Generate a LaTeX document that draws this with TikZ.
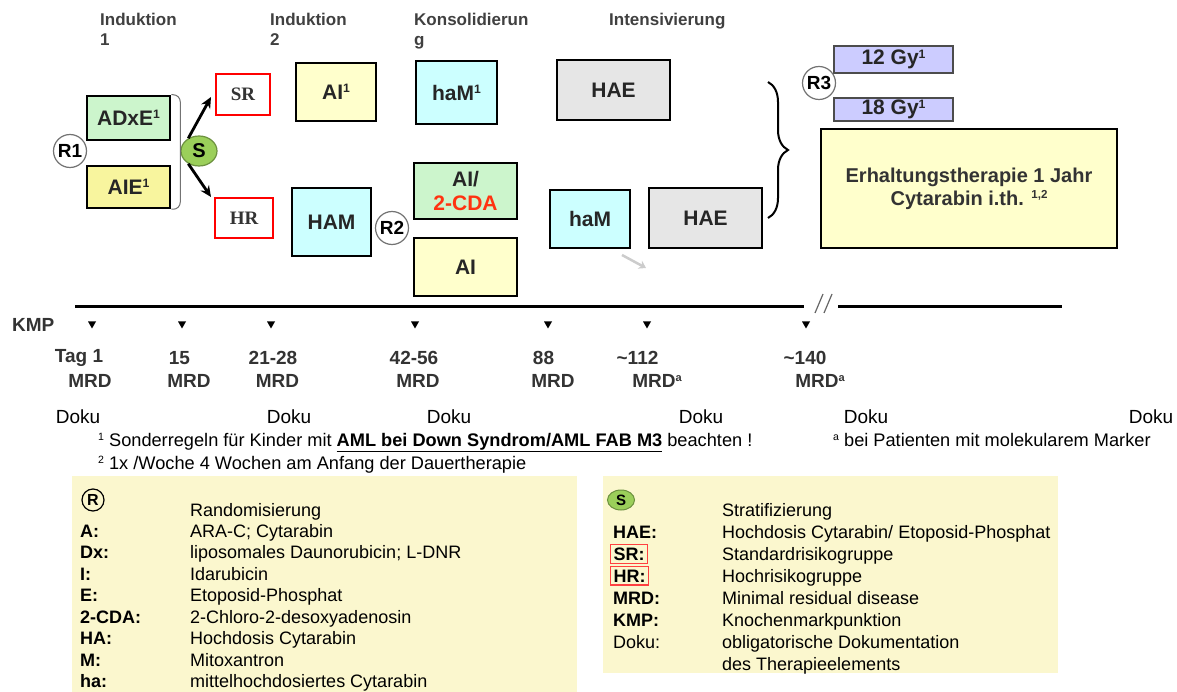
\documentclass[tikz,border=0pt]{standalone}
\usepackage{fontspec}
\setmainfont{Liberation Sans}
\newfontfamily\serifbox{Liberation Serif}
\usepackage{xcolor}
\usetikzlibrary{arrows.meta,decorations.pathreplacing,shapes.geometric}

\definecolor{boxgreen}{HTML}{CCF5CC}
\definecolor{boxyellow}{HTML}{F8F59E}
\definecolor{paleyellow}{HTML}{FFFFCC}
\definecolor{boxcyan}{HTML}{CCFFFF}
\definecolor{boxgray}{HTML}{E6E6E6}
\definecolor{boxlilac}{HTML}{CCCCFF}
\definecolor{sgreen}{HTML}{9BCF5A}
\definecolor{legbg}{HTML}{FBF7CE}
\definecolor{cdared}{HTML}{FF3311}

\newcommand{\sz}[2]{\fontsize{#1}{#2}\selectfont}
\newcommand{\hoch}[1]{\raisebox{0.32em}{\scalebox{0.58}{#1}}}

\begin{document}
\begin{tikzpicture}[x=1pt, y=-1pt,
    therapy/.style={draw=black, line width=2.5pt, inner sep=0pt, align=center,
        font=\bfseries\sz{21}{24}, text=black!85},
    risk/.style={draw=red, line width=1.8pt, fill=white, inner sep=0pt,
        font=\serifbox\bfseries\sz{19}{22}, text=black!80},
    rando/.style={circle, draw=black!55, line width=1.2pt, fill=white,
        minimum size=33pt, inner sep=0pt, font=\bfseries\sz{19}{22}},
    gy/.style={draw=black!70, line width=1.5pt, fill=boxlilac, inner sep=0pt,
        minimum width=119pt, font=\bfseries\sz{21}{22}, text=black!85},
    phase/.style={anchor=north west, align=left, inner sep=0pt,
        font=\bfseries\sz{17}{20}, text=black!75},
    tl/.style={font=\bfseries\sz{19}{22}, text=black!80},
    doku/.style={font=\sz{19}{22}},
    foot/.style={anchor=base west, inner sep=0pt, font=\sz{18.2}{21}},
    legkey/.style={anchor=base west, inner sep=0pt, font=\bfseries\sz{18}{21}},
    legval/.style={anchor=base west, inner sep=0pt, font=\sz{18}{21}}
]
    \useasboundingbox (0,0) rectangle (1177,692);

    % Phases
    \node[phase] (ind1) at (100,13) {Induktion\\1};
    \node[phase] (ind2) at (270,13) {Induktion\\2};
    \node[phase] (kons) at (414,13) {Konsolidierun\\g};
    \node[phase] (intens) at (609,13) {Intensivierung};

    % Induktion 1
    \node[therapy, fill=boxgreen, minimum width=83pt, minimum height=44pt] (adxe) at (128.5,118) {ADxE\hoch{1}};
    \node[therapy, fill=boxyellow, minimum width=83pt, minimum height=42pt] (aie) at (128.5,187) {AIE\hoch{1}};
    \node[rando] (r1) at (70,151) {R1};
    \node[ellipse, draw=sgreen!70!black, fill=sgreen, line width=1.2pt, minimum width=36pt, minimum height=30pt,
        inner sep=0pt, font=\bfseries\sz{20}{22}] (strat) at (199,151) {S};
    \draw[black!55, line width=1pt, rounded corners=7pt] (adxe.north east) -- ++(9,0) -- ++(0,47) -- (strat.west);
    \draw[black!55, line width=1pt, rounded corners=7pt] (aie.south east) -- ++(9,0) -- ++(0,-47) -- (strat.west);

    % Stratifizierung
    \node[risk, minimum width=54pt, minimum height=41pt] (sr) at (243,94.5) {SR};
    \node[risk, minimum width=58pt, minimum height=40pt] (hr) at (244,218) {HR};
    \coordinate (srtip) at (211,97);
    \coordinate (hrtip) at (211,197);
    \draw[-{Stealth[length=11pt,width=10pt]}, line width=2.8pt] (strat.130) -- (srtip);
    \draw[-{Stealth[length=11pt,width=10pt]}, line width=2.8pt] (strat.230) -- (hrtip);

    % Induktion 2
    \node[therapy, fill=paleyellow, minimum width=80pt, minimum height=58pt] (ai1) at (336,92) {AI\hoch{1}};
    \node[therapy, fill=boxcyan, minimum width=79pt, minimum height=68pt] (ham) at (331.5,222) {HAM};
    \node[rando] (r2) at (392,228) {R2};

    % Konsolidierung
    \node[therapy, fill=boxcyan, minimum width=81pt, minimum height=63pt] (ham1) at (456.5,92.5) {haM\hoch{1}};
    \node[therapy, fill=boxgreen, minimum width=103pt, minimum height=56pt] (aicda) at (465.5,191) {AI/\\\textcolor{cdared}{2-CDA}};
    \node[therapy, fill=paleyellow, minimum width=103pt, minimum height=58pt] (ai) at (465.5,267) {AI};

    % Intensivierung
    \node[therapy, fill=boxgray, minimum width=113pt, minimum height=60pt] (haea) at (613.5,90) {HAE};
    \node[therapy, fill=boxcyan, minimum width=80pt, minimum height=58pt] (hamb) at (590,219) {haM};
    \node[therapy, fill=boxgray, minimum width=113pt, minimum height=60pt] (haeb) at (705.5,218) {HAE};
    \coordinate (graystart) at (622,255);
    \coordinate (grayend) at (646,268);
    \draw[black!20, line width=2.5pt, -{Stealth[length=7pt,width=9pt]}] (graystart) -- (grayend);

    % Erhaltung
    \draw[decorate, decoration={brace, amplitude=20pt}, line width=2pt] (768,82) -- (768,218);
    \node[gy, minimum height=27pt] (gy12) at (893.5,59.5) {12 Gy\hoch{1}};
    \node[gy, minimum height=23pt] (gy18) at (893.5,109.5) {18 Gy\hoch{1}};
    \node[rando] (r3) at (819,83) {R3};
    \node[therapy, fill=paleyellow, minimum width=296pt, minimum height=119pt,
        font=\bfseries\sz{20}{23}, text=black!80] (erh) at (969,188.5) {Erhaltungstherapie 1 Jahr\\Cytarabin i.th. \hoch{1,2}};

    % Zeitachse
    \draw[line width=3pt] (75,307) -- (804,307);
    \draw[line width=3pt] (838,307) -- (1062,307);
    \draw[black!60, line width=1.2pt] (815,313) -- (823,294);
    \draw[black!60, line width=1.2pt] (824,313) -- (832,294);
    \node[tl, anchor=west, inner sep=0pt] (kmp) at (12,325) {KMP};
    \foreach \x in {92,182,271,415,548,647,806} {
        \fill (\x-4,321.5) -- (\x+4,321.5) -- (\x,328.5) -- cycle;
    }
    \foreach \n/\d/\dx/\mx/\m in {a/Tag 1/79/90/MRD, b/15/179.5/189/MRD, c/21-28/273/277.5/MRD,
        d/42-56/414/418/MRD, e/88/543.5/553/MRD, f/\textasciitilde112/637.5/657/MRD\hoch{a},
        g/\textasciitilde140/805/820/MRD\hoch{a}} {
        \node[tl] (day\n) at (\dx,358) {\d};
        \node[tl] (mrd\n) at (\mx,381) {\m};
    }
    \foreach \x [count=\i] in {78,289,449,701,866,1151} {
        \node[doku] (doku\i) at (\x,417) {Doku};
    }

    % Fussnoten
    \node[foot] (fn1) at (98,446) {\hoch{1} Sonderregeln für Kinder mit \textbf{\underline{AML bei Down Syndrom/AML FAB M3}} beachten !};
    \node[foot] (fna) at (833,446) {\hoch{a} bei Patienten mit molekularem Marker};
    \node[foot] (fn2) at (98,469) {\hoch{2} 1x /Woche 4 Wochen am Anfang der Dauertherapie};

    % Legende links
    \fill[legbg] (72,476) rectangle (577,692);
    \node[circle, draw, line width=1.2pt, inner sep=0pt, minimum size=22pt, font=\bfseries\sz{16}{18}] (legr) at (93,500) {R};
    \node[legval] (valr) at (190,516) {Randomisierung};
    \foreach \k/\v [count=\i] in {A:/ARA-C; Cytarabin, Dx:/liposomales Daunorubicin; L-DNR, I:/Idarubicin,
        E:/Etoposid-Phosphat, 2-CDA:/2-Chloro-2-desoxyadenosin, HA:/Hochdosis Cytarabin,
        M:/Mitoxantron, ha:/mittelhochdosiertes Cytarabin} {
        \node[legkey] (lk\i) at (80,515.5+21.5*\i) {\k};
        \node[legval] (lv\i) at (190,515.5+21.5*\i) {\v};
    }

    % Legende rechts
    \fill[legbg] (603,476) rectangle (1058,673);
    \node[ellipse, draw=sgreen!70!black, fill=sgreen, line width=1pt, inner sep=0pt, minimum width=27pt,
        minimum height=20pt, font=\bfseries\sz{15}{17}] (legs) at (621,500) {S};
    \node[legval] (vals) at (722,516) {Stratifizierung};
    \node[legkey] (khae) at (613,538) {HAE:};
    \node[legval] (vhae) at (722,538) {Hochdosis Cytarabin/ Etoposid-Phosphat};
    \node[legkey, draw=red!75, line width=1.2pt, inner sep=3pt] (ksr) at (610,560) {SR:};
    \node[legval] (vsr) at (722,560) {Standardrisikogruppe};
    \node[legkey, draw=red!75, line width=1.2pt, inner sep=3pt] (khr) at (610,582) {HR:};
    \node[legval] (vhr) at (722,582) {Hochrisikogruppe};
    \node[legkey] (kmrd) at (613,604) {MRD:};
    \node[legval] (vmrd) at (722,604) {Minimal residual disease};
    \node[legkey] (kkmp) at (613,626) {KMP:};
    \node[legval] (vkmp) at (722,626) {Knochenmarkpunktion};
    \node[legval] (kdoku) at (613,648) {Doku:};
    \node[legval] (vdoku) at (722,648) {obligatorische Dokumentation};
    \node[legval] (vdoku2) at (722,670) {des Therapieelements};
\end{tikzpicture}
\end{document}
